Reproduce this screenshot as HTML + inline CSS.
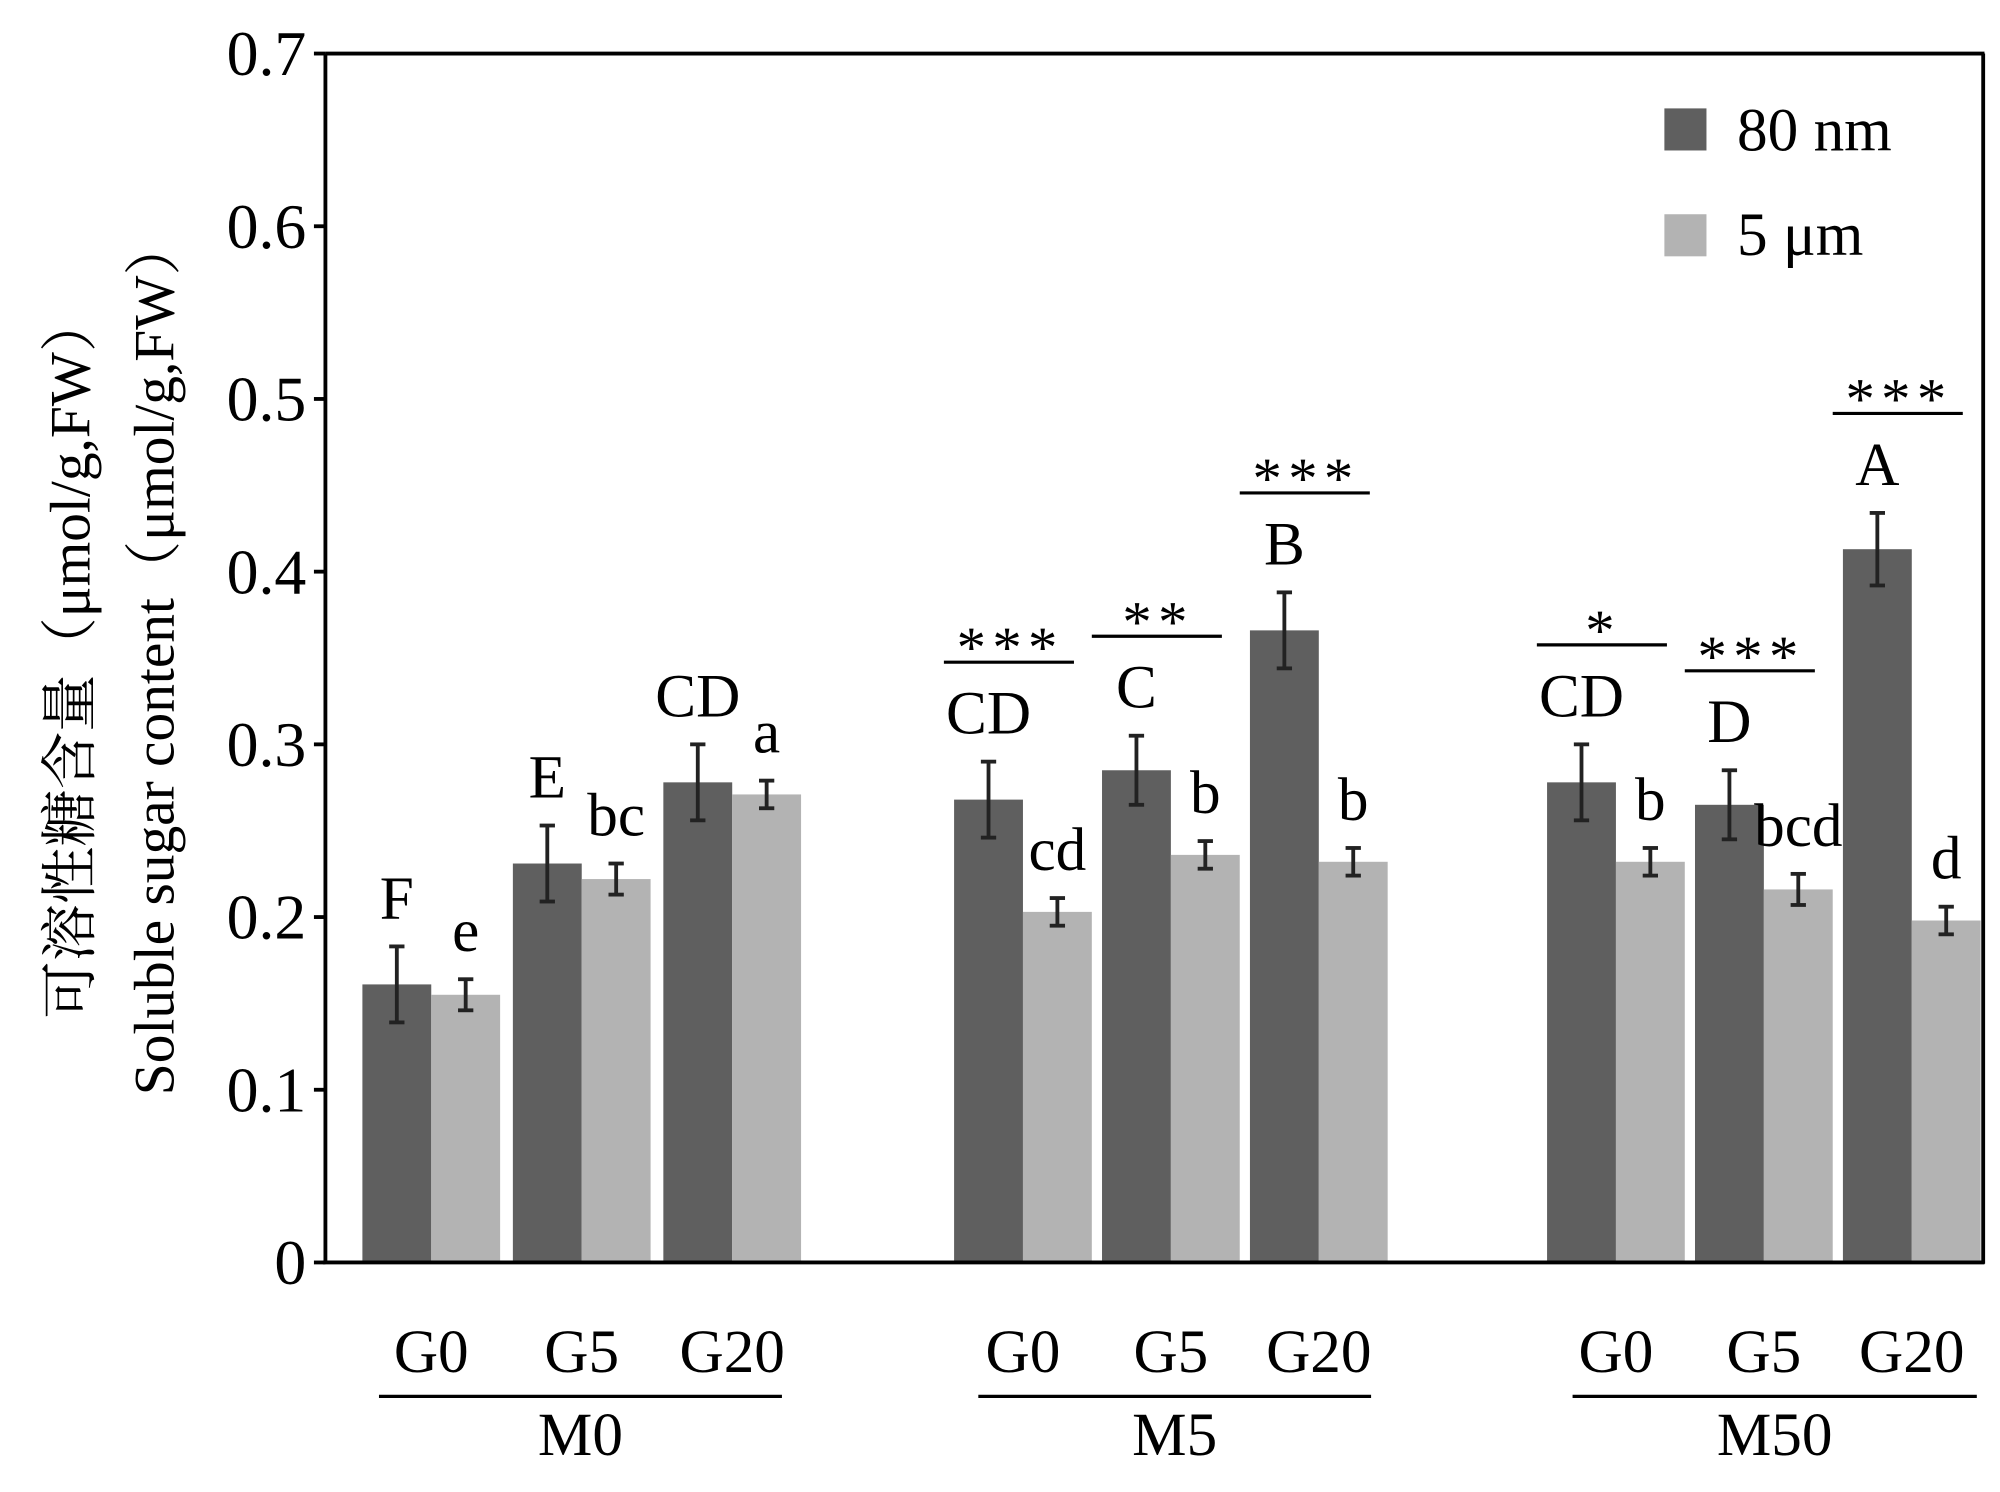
<!DOCTYPE html>
<html><head><meta charset="utf-8"><style>
html,body{margin:0;padding:0;background:#fff;}
svg{display:block;font-family:"Liberation Serif","Noto Serif CJK SC",serif;}
</style></head><body>
<svg id="chart" width="2000" height="1492" viewBox="0 0 1568 1170" xmlns="http://www.w3.org/2000/svg">
<rect width="1568" height="1170" fill="#fff"/>
<g id="marks"></g>
<g id="axes">
<line x1="255" y1="42" x2="255" y2="991" stroke="#000" stroke-width="3"/>
<line x1="253" y1="990" x2="1556" y2="990" stroke="#000" stroke-width="3"/>
<line x1="255" y1="42" x2="1556" y2="42" stroke="#000" stroke-width="3"/>
<line x1="1555" y1="42" x2="1555" y2="991" stroke="#000" stroke-width="3"/>
</g>
<g>
<rect x="1305" y="85" width="33" height="33" fill="#5f5f5f"/>
<text x="1362" y="118" font-size="48">80 nm</text>
<rect x="1305" y="168" width="33" height="33" fill="#b3b3b3"/>
<text x="1362" y="200" font-size="48">5 μm</text>
</g>
<text transform="translate(70,515) rotate(-90)" text-anchor="middle" font-size="45">可溶性糖含量（μmol/g,FW）</text>
<text transform="translate(136,515) rotate(-90)" text-anchor="middle" font-size="45">Soluble sugar content（μmol/g,FW）</text>
</svg>
<script>
const groups = ["M0","M5","M50"];
const subgroups = ["G0","G5","G20"];
const dark = [0.161,0.231,0.278,0.268,0.285,0.366,0.278,0.265,0.413];
const darkErr = [0.022,0.022,0.022,0.022,0.02,0.022,0.022,0.02,0.021];
const light = [0.155,0.222,0.271,0.203,0.236,0.232,0.232,0.216,0.198];
const lightErr = [0.009,0.009,0.008,0.008,0.008,0.008,0.008,0.009,0.008];
const darkLetters = ["F","E","CD","CD","C","B","CD","D","A"];
const lightLetters = ["e","bc","a","cd","b","b","b","bcd","d"];
const sigMarks = ["","","","***","**","***","*","***","***"];
const yTicks = [0,0.1,0.2,0.3,0.4,0.5,0.6,0.7];
const tickLabels = ["0","0.1","0.2","0.3","0.4","0.5","0.6","0.7"];

const NS="http://www.w3.org/2000/svg";
const svg=document.getElementById('chart');
const marks=document.getElementById('marks');
const axes=document.getElementById('axes');
function y(v){return 990 - v*1354.3;}
const groupStart=[284,748,1213];
const pairStep=[118,116,116];
const bw=54;
function bx(i){const g=Math.floor(i/3),s=i%3;return groupStart[g]+s*pairStep[g];}
function mk(tag,attrs,parent){const e=document.createElementNS(NS,tag);for(const k in attrs)e.setAttribute(k,attrs[k]);(parent||svg).appendChild(e);return e;}

yTicks.forEach((t,i)=>{
  const l=mk('line',{x1:246,x2:255,y1:y(t),y2:y(t),stroke:'#000','stroke-width':3},axes);
  
  
  const tx=mk('text',{x:240,y:y(t)+17,'text-anchor':'end','font-size':50},axes);
  tx.textContent=tickLabels[i];
  
  
});

function errBar(cx,v,e){
  const g=mk('g',{stroke:'#222','stroke-width':3},marks);
  
  
  mk('line',{x1:cx,x2:cx,y1:y(v+e),y2:y(v-e)},g);
  mk('line',{x1:cx-6,x2:cx+6,y1:y(v+e),y2:y(v+e)},g);
  mk('line',{x1:cx-6,x2:cx+6,y1:y(v-e),y2:y(v-e)},g);
}
function label(x,yy,t,size,name){
  const tx=mk('text',{x:x,y:yy,'text-anchor':'middle','font-size':size},marks);
  tx.textContent=t;
  
  
}
for(let i=0;i<dark.length;i++){
  const x=bx(i);
  const r1=mk('rect',{x:x,y:y(dark[i]),width:bw,height:990-y(dark[i]),fill:'#5f5f5f'},marks);
  
  
  const r2=mk('rect',{x:x+bw,y:y(light[i]),width:bw,height:990-y(light[i]),fill:'#b3b3b3'},marks);
  
  
  errBar(x+bw/2,dark[i],darkErr[i]);
  errBar(x+bw*1.5,light[i],lightErr[i]);
  label(x+bw/2,y(dark[i]+darkErr[i])-22,darkLetters[i],48,'letter-80nm');
  label(x+bw*1.5,y(light[i]+lightErr[i])-22,lightLetters[i],48,'letter-5um');
  if(sigMarks[i]){
    const top=Math.max(dark[i]+darkErr[i],light[i]+lightErr[i]);
    const ly=y(top)-78;
    const l=mk('line',{x1:x-8,x2:x+bw*2-14,y1:ly,y2:ly,stroke:'#000','stroke-width':2.5},marks);
    
    
    const s=mk('text',{x:x+bw-10,y:ly+4,'text-anchor':'middle','font-size':46,'letter-spacing':5},marks);
    s.textContent=sigMarks[i];
    
    
  }
  label(x+bw,1076,subgroups[i%3],48,'x-tick-label');
}
const uline=[[297,613],[767,1075],[1233,1550]];
groups.forEach((g,k)=>{
  const l=mk('line',{x1:uline[k][0],x2:uline[k][1],y1:1095,y2:1095,stroke:'#000','stroke-width':2.5},marks);
  
  
  label((uline[k][0]+uline[k][1])/2,1141,g,48,'x-group-label');
});
</script>
</body></html>
